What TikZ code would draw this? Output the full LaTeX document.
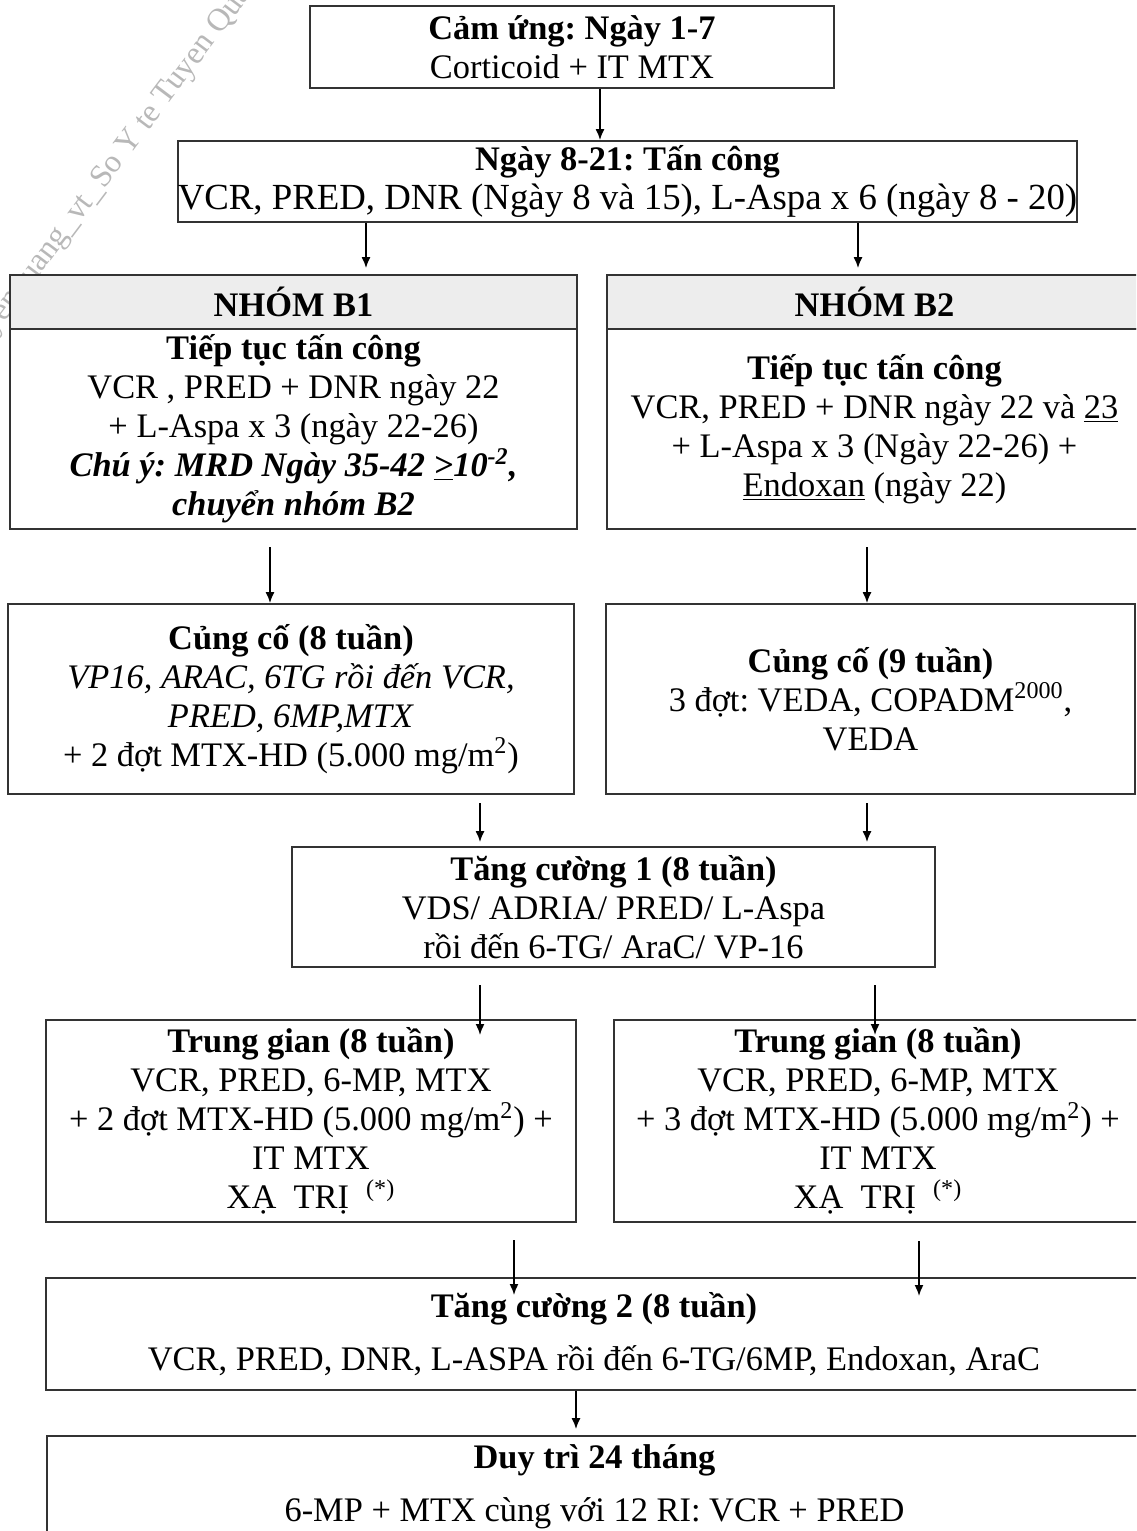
\documentclass[tikz,border=0pt]{standalone}
\usepackage{fontspec}
\setmainfont{Liberation Serif}
\usetikzlibrary{arrows.meta}
\frenchspacing

\begin{document}
\begin{tikzpicture}[x=0.5pt,y=-0.5pt,
  box/.style={draw=black!80, line width=0.9pt, align=center, inner sep=0pt,
              font=\fontsize{17.2}{19.5}\selectfont},
  headbox/.style={box, fill=black!7},
  arr/.style={-{Latex[length=5.5pt,width=4.5pt]}, line width=0.8pt},
  wmark/.style={text=black!28, font=\fontsize{16}{16}\selectfont, rotate=53, inner sep=0pt}]
\useasboundingbox (0,0) rectangle (1136,1531);
\clip (0,0) rectangle (1136,1531);

% faint diagonal stamp in the upper left corner
\node[wmark, anchor=base east] (wmA) at (104,190) {tuyenquang\_vt\_};
\node[wmark, anchor=base west] (wmB) at (104,190) {So Y te Tuyen Quang};

% induction and first attack
\node[box, minimum width=262pt, minimum height=41pt] (cam) at (572,47)
  {\textbf{Cảm ứng: Ngày 1-7}\\Corticoid + IT MTX};
\node[box, minimum width=449.5pt, minimum height=40.5pt] (tancong) at (627.5,181.5)
  {\textbf{Ngày 8-21: Tấn công}\\
   {\fontsize{18.4}{19.5}\selectfont VCR, PRED, DNR (Ngày 8 và 15), L-Aspa x 6 (ngày 8 - 20)}};

% group B1
\node[headbox, minimum width=283.5pt, minimum height=27pt] (b1h) at (293.5,302)
  {\textbf{NHÓM B1}};
\node[box, minimum width=283.5pt, minimum height=100pt] (b1) at (293.5,429)
  {\textbf{Tiếp tục tấn công}\\
   VCR , PRED + DNR ngày 22\\
   + L-Aspa x 3 (ngày 22-26)\\
   \textbf{\textit{Chú ý: MRD Ngày 35-42 \underline{>}10\textsuperscript{-2},}}\\
   \textbf{\textit{chuyển nhóm B2}}};

% group B2
\node[headbox, minimum width=267.5pt, minimum height=27pt] (b2h) at (874.5,302)
  {\textbf{NHÓM B2}};
\node[box, minimum width=267.5pt, minimum height=100pt] (b2) at (874.5,429)
  {\textbf{Tiếp tục tấn công}\\
   VCR, PRED + DNR ngày 22 và \underline{23}\\
   + L-Aspa x 3 (Ngày 22-26) +\\
   \underline{Endoxan} (ngày 22)};

% consolidation
\node[box, minimum width=283pt, minimum height=95pt] (cc1) at (291,699)
  {\textbf{Củng cố (8 tuần)}\\
   \textit{VP16, ARAC, 6TG rồi đến VCR,}\\
   \textit{PRED, 6MP,MTX}\\
   + 2 đợt MTX-HD (5.000 mg/m\textsuperscript{2})};
\node[box, minimum width=264.5pt, minimum height=95pt] (cc2) at (870.5,699)
  {\textbf{Củng cố (9 tuần)}\\
   3 đợt: VEDA, COPADM\textsuperscript{2000},\\
   VEDA};

% intensification 1
\node[box, minimum width=321.5pt, minimum height=60pt] (tc1) at (613.5,907)
  {\textbf{Tăng cường 1 (8 tuần)}\\
   VDS/ ADRIA/ PRED/ L-Aspa\\
   rồi đến 6-TG/ AraC/ VP-16};

% interim phases
\node[box, minimum width=265pt, minimum height=101pt] (tg1) at (311,1121)
  {\textbf{Trung gian (8 tuần)}\\
   VCR, PRED, 6-MP, MTX\\
   + 2 đợt MTX-HD (5.000 mg/m\textsuperscript{2}) +\\
   IT MTX\\
   XẠ\ \ TRỊ\ \ \textsuperscript{(*)}};
\node[box, minimum width=264pt, minimum height=101pt] (tg2) at (878,1121)
  {\textbf{Trung gian (8 tuần)}\\
   VCR, PRED, 6-MP, MTX\\
   + 3 đợt MTX-HD (5.000 mg/m\textsuperscript{2}) +\\
   IT MTX\\
   XẠ\ \ TRỊ\ \ \textsuperscript{(*)}};

% intensification 2 and maintenance
\node[box, minimum width=548pt, minimum height=56pt] (tc2) at (594,1334)
  {\textbf{Tăng cường 2 (8 tuần)}\\[7pt]
   VCR, PRED, DNR, L-ASPA rồi đến 6-TG/6MP, Endoxan, AraC};
\node[box, minimum width=547.5pt, minimum height=54.5pt] (dt) at (594.5,1490.5)
  {\textbf{Duy trì 24 tháng}\\[7pt]
   6-MP + MTX cùng với 12 RI: VCR + PRED\\[-12pt]\mbox{}};

% arrow positions
\coordinate (xa) at (600,0);
\coordinate (xb1) at (366,0);
\coordinate (xb2) at (858,0);
\coordinate (c1s) at (270,547);
\coordinate (c2s) at (867,547);
\coordinate (d1s) at (480,803);
\coordinate (d2s) at (867,803);
\coordinate (e1s) at (480,985);
\coordinate (e1e) at (480,1035);
\coordinate (e2s) at (875,985);
\coordinate (e2e) at (875,1035);
\coordinate (f1s) at (514,1240);
\coordinate (f1e) at (514,1295);
\coordinate (f2s) at (919,1241);
\coordinate (f2e) at (919,1296);
\coordinate (xg) at (576,0);

% connectors
\draw[arr] (cam.south -| xa) -- (tancong.north -| xa);
\draw[arr, shorten >=3pt] (tancong.south -| xb1) -- (b1h.north -| xb1);
\draw[arr, shorten >=3pt] (tancong.south -| xb2) -- (b2h.north -| xb2);
\draw[arr] (c1s) -- (cc1.north -| c1s);
\draw[arr] (c2s) -- (cc2.north -| c2s);
\draw[arr, shorten >=2pt] (d1s) -- (tc1.north -| d1s);
\draw[arr, shorten >=2pt] (d2s) -- (tc1.north -| d2s);
\draw[arr] (e1s) -- (e1e);
\draw[arr] (e2s) -- (e2e);
\draw[arr] (f1s) -- (f1e);
\draw[arr] (f2s) -- (f2e);
\draw[arr, shorten >=3pt] (tc2.south -| xg) -- (dt.north -| xg);
\end{tikzpicture}
\end{document}
